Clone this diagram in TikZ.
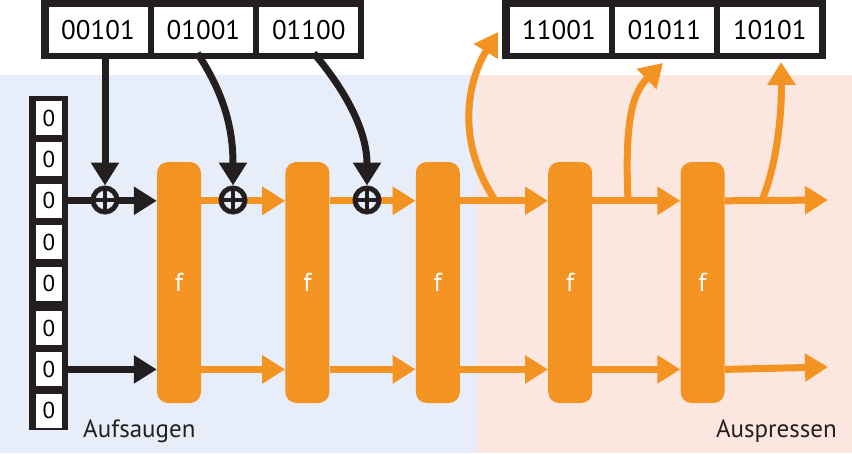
\documentclass[tikz,border=0pt]{standalone}
\usepackage{fontspec}
\setmainfont{PT Sans}
\usetikzlibrary{arrows.meta,positioning}

\definecolor{sorange}{HTML}{F39322}
\definecolor{sblack}{HTML}{231F20}
\definecolor{sblue}{HTML}{E8EEF9}
\definecolor{spink}{HTML}{FCE7E0}

\begin{document}
\begin{tikzpicture}[x=1pt,y=-1pt,>={Triangle[length=23pt,width=27pt]},
  cell/.style={fill=white,inner sep=0pt,minimum width=99pt,minimum height=46pt,font=\fontsize{27}{27}\selectfont},
  bit/.style={fill=white,inner sep=0pt,minimum width=26pt,minimum height=34pt,font=\fontsize{23}{23}\selectfont},
  fblock/.style={fill=sorange,rounded corners=11pt,inner sep=0pt,minimum width=44pt,minimum height=241pt,text=white,font=\fontsize{26}{26}\selectfont},
  xor/.style={circle,draw=sblack,fill=sblue,line width=5pt,minimum size=24pt,inner sep=0pt,
    path picture={\draw[sblack,line width=4pt] (path picture bounding box.north) -- (path picture bounding box.south)
      (path picture bounding box.west) -- (path picture bounding box.east);}},
  blk/.style={draw=sblack,line width=7pt},
  org/.style={draw=sorange,line width=7pt},
  phase/.style={inner sep=0pt,text=sblack,font=\fontsize{25}{25}\selectfont}]
\useasboundingbox (0,0) rectangle (852,453);
\fill[sblue] (0,75) rectangle (477,453);
\fill[spink] (477,75) rectangle (852,453);

% input words and output words
\fill[sblack] (41,0) rectangle (364,59);
\node[cell] (in1) at (98,30) {00101};
\node[cell] (in2) [right=6pt of in1] {01001};
\node[cell] (in3) [right=6pt of in2] {01100};
\fill[sblack] (502,0) rectangle (826,59);
\node[cell] (out1) at (559,30) {11001};
\node[cell] (out2) [right=6pt of out1] {01011};
\node[cell] (out3) [right=6pt of out2] {10101};

% state
\fill[sblack] (29,96) rectangle (68,430);
\node[bit] (c1) at (49,118) {0};
\node[bit] (c2) [below=7pt of c1] {0};
\node[bit] (c3) [below=7pt of c2] {0};
\node[bit] (c4) [below=7pt of c3] {0};
\node[bit] (c5) [below=7pt of c4] {0};
\node[bit] (c6) [below=10pt of c5] {0};
\node[bit] (c7) [below=7pt of c6] {0};
\node[bit] (c8) [below=7pt of c7] {0};

\node[fblock] (f1) at (179,282.5) {f};
\node[fblock] (f2) [right=84pt of f1] {f};
\node[fblock] (f3) [right=86pt of f2] {f};
\node[fblock] (f4) [right=88pt of f3] {f};
\node[fblock] (f5) [right=88pt of f4] {f};

\coordinate (e1) at (828,200);
\coordinate (e2) at (828,367);
\coordinate (b1) at (495,200);
\coordinate (b2) at (628,200);
\coordinate (b3) at (762,200);
\coordinate (t1) at (498,32);
\coordinate (t2) at (663,63);
\coordinate (t3) at (781,62);

\draw[blk,->] (c3.east) -- (c3 -| f1.west);
\draw[blk,->] (c7.east) -- (c7 -| f1.west);
\draw[org,->] (f1.east |- c3) -- (f2.west |- c3);
\draw[org,->] (f2.east |- c3) -- (f3.west |- c3);
\draw[org,->] (f3.east |- c3) -- (f4.west |- c3);
\draw[org,->] (f4.east |- c3) -- (f5.west |- c3);
\draw[org,->] (f5.east |- c3) -- (e1);
\draw[org,->] (f1.east |- c7) -- (f2.west |- c7);
\draw[org,->] (f2.east |- c7) -- (f3.west |- c7);
\draw[org,->] (f3.east |- c7) -- (f4.west |- c7);
\draw[org,->] (f4.east |- c7) -- (f5.west |- c7);
\draw[org,->] (f5.east |- c7) -- (e2);

\node[xor] (x1) at (105,200) {};
\node[xor] (x2) at (233,200) {};
\node[xor] (x3) at (367,200) {};

\draw[blk,->] (x1 |- in1.south) -- (x1.north);
\draw[blk,->] ([xshift=-6pt]in2.south) .. controls (225,95) and (233,130) .. (x2.north);
\draw[blk,->] ([xshift=5pt]in3.south) .. controls (345,90) and (367,130) .. (x3.north);

\draw[org,->] (b1) .. controls (455,140) and (468,80) .. (t1);
\draw[org,->] (b2) .. controls (625,130) and (630,95) .. (t2);
\draw[org,->] (b3) .. controls (775,170) and (782,120) .. (t3);

\node[phase,anchor=base west] (absorb) at (83,437) {Aufsaugen};
\node[phase,anchor=base east] (squeeze) at (837,437) {Auspressen};
\end{tikzpicture}
\end{document}
